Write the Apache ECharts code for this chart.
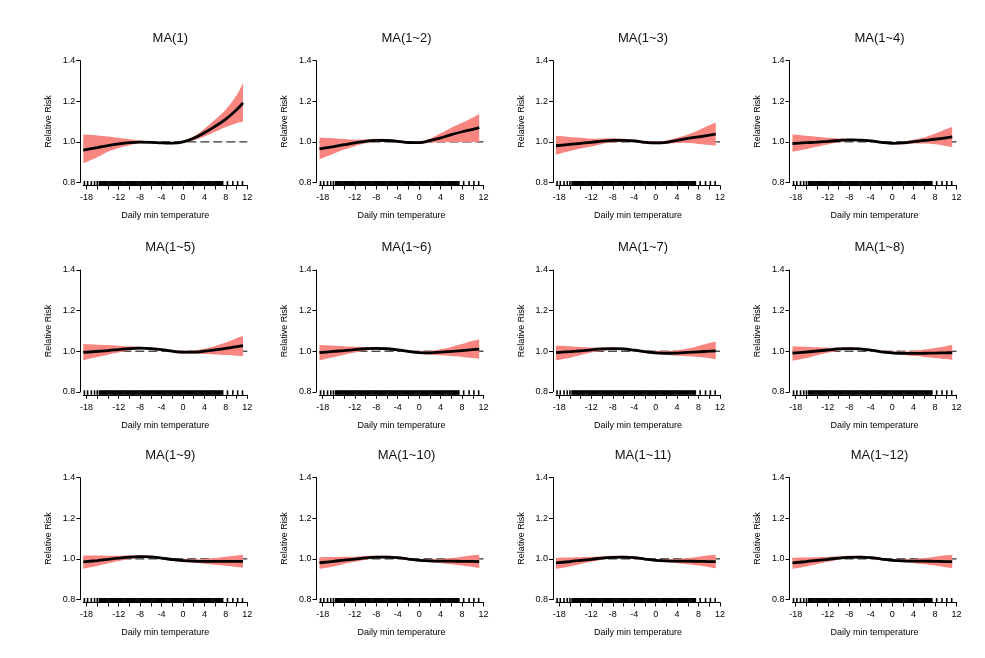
<!DOCTYPE html>
<html>
<head>
<meta charset="utf-8">
<script src="https://cdn.jsdelivr.net/npm/echarts@6/dist/echarts.min.js"></script>
<style>
html,body{margin:0;padding:0;background:#fff;}
#chart{width:985px;height:658px;}
</style>
</head>
<body>
<div id="chart"></div>
<script>
// ---------------- data ----------------
const panelTitles = ['MA(1)','MA(1~2)','MA(1~3)','MA(1~4)','MA(1~5)','MA(1~6)','MA(1~7)','MA(1~8)','MA(1~9)','MA(1~10)','MA(1~11)','MA(1~12)'];

// temperature grid at which the exposure-response curve is read
const temps = [-18.6,-16,-14,-12,-10,-8,-6,-4,-2,0,2,4,6,8,10,11.2];

const fitRR = [
  [0.960,0.972,0.982,0.990,0.996,0.999,0.998,0.995,0.994,1.000,1.018,1.045,1.077,1.112,1.158,1.192],
  [0.966,0.977,0.986,0.995,1.003,1.008,1.007,1.003,0.997,0.996,1.006,1.020,1.036,1.050,1.062,1.070],
  [0.981,0.988,0.993,0.998,1.004,1.008,1.008,1.005,0.998,0.995,0.998,1.008,1.017,1.025,1.033,1.038],
  [0.992,0.996,0.999,1.003,1.007,1.010,1.009,1.005,0.998,0.993,0.995,1.001,1.007,1.013,1.020,1.025],
  [0.994,0.999,1.003,1.008,1.013,1.015,1.013,1.008,1.000,0.995,0.995,1.000,1.007,1.014,1.022,1.027],
  [0.993,0.999,1.003,1.008,1.012,1.014,1.012,1.007,0.999,0.993,0.992,0.995,0.999,1.003,1.008,1.010],
  [0.993,0.998,1.002,1.007,1.011,1.013,1.011,1.005,0.998,0.992,0.990,0.991,0.994,0.997,1.000,1.002],
  [0.990,0.996,1.001,1.006,1.011,1.013,1.011,1.005,0.997,0.992,0.989,0.989,0.990,0.991,0.992,0.993],
  [0.985,0.992,0.998,1.004,1.009,1.011,1.010,1.004,0.997,0.992,0.989,0.988,0.988,0.988,0.988,0.988],
  [0.981,0.988,0.994,0.999,1.005,1.009,1.009,1.006,0.999,0.993,0.990,0.989,0.989,0.988,0.988,0.987],
  [0.980,0.987,0.993,0.998,1.004,1.008,1.009,1.006,0.999,0.993,0.990,0.989,0.989,0.988,0.987,0.987],
  [0.980,0.987,0.993,0.998,1.004,1.008,1.009,1.006,0.999,0.993,0.990,0.989,0.989,0.988,0.987,0.987]
];
const lowerCI = [
  [0.895,0.925,0.952,0.970,0.984,0.993,0.993,0.990,0.989,0.994,1.008,1.027,1.050,1.073,1.092,1.100],
  [0.915,0.942,0.962,0.979,0.993,1.000,1.000,0.997,0.991,0.990,0.996,0.998,0.999,0.999,0.999,0.999],
  [0.937,0.955,0.967,0.977,0.990,0.998,1.000,0.998,0.992,0.989,0.991,0.995,0.994,0.990,0.985,0.982],
  [0.951,0.965,0.976,0.987,0.998,1.004,1.004,1.000,0.993,0.988,0.988,0.992,0.992,0.988,0.980,0.974],
  [0.956,0.971,0.983,0.993,1.003,1.009,1.008,1.003,0.994,0.988,0.987,0.986,0.984,0.981,0.978,0.976],
  [0.955,0.970,0.982,0.993,1.003,1.008,1.007,1.002,0.993,0.986,0.983,0.980,0.976,0.972,0.967,0.963],
  [0.955,0.968,0.981,0.993,1.002,1.007,1.006,1.000,0.991,0.985,0.981,0.978,0.975,0.971,0.965,0.960],
  [0.953,0.966,0.980,0.992,1.002,1.007,1.006,1.000,0.991,0.985,0.981,0.976,0.972,0.967,0.961,0.957],
  [0.952,0.965,0.978,0.990,1.000,1.005,1.005,0.999,0.991,0.985,0.981,0.976,0.971,0.966,0.960,0.956],
  [0.952,0.963,0.975,0.986,0.996,1.003,1.004,1.000,0.993,0.987,0.983,0.979,0.974,0.967,0.960,0.955],
  [0.952,0.963,0.975,0.986,0.996,1.003,1.004,1.000,0.993,0.987,0.983,0.979,0.974,0.967,0.959,0.954],
  [0.952,0.963,0.975,0.986,0.996,1.003,1.004,1.000,0.993,0.987,0.983,0.979,0.974,0.967,0.959,0.954]
];
const upperCI = [
  [1.036,1.032,1.027,1.020,1.013,1.007,1.003,1.000,0.999,1.006,1.028,1.065,1.110,1.160,1.230,1.290],
  [1.022,1.018,1.014,1.011,1.013,1.016,1.014,1.009,1.003,1.003,1.017,1.042,1.070,1.094,1.120,1.138],
  [1.030,1.024,1.020,1.016,1.017,1.018,1.016,1.012,1.005,1.003,1.007,1.020,1.037,1.058,1.082,1.096],
  [1.036,1.030,1.025,1.020,1.017,1.016,1.014,1.010,1.003,0.998,1.002,1.011,1.023,1.040,1.062,1.075],
  [1.035,1.032,1.030,1.027,1.024,1.022,1.019,1.013,1.006,1.002,1.004,1.012,1.026,1.043,1.064,1.075],
  [1.031,1.028,1.024,1.022,1.021,1.020,1.017,1.012,1.005,1.000,1.001,1.009,1.021,1.035,1.051,1.058],
  [1.028,1.025,1.021,1.018,1.018,1.019,1.016,1.010,1.004,1.001,1.001,1.005,1.013,1.026,1.040,1.048],
  [1.025,1.022,1.019,1.017,1.018,1.019,1.016,1.010,1.003,0.999,0.998,1.001,1.008,1.016,1.025,1.030],
  [1.017,1.017,1.016,1.016,1.017,1.018,1.016,1.010,1.003,0.999,0.998,1.000,1.005,1.011,1.017,1.021],
  [1.008,1.009,1.010,1.011,1.014,1.015,1.015,1.012,1.005,1.000,0.998,0.999,1.004,1.011,1.018,1.021],
  [1.006,1.007,1.008,1.010,1.013,1.015,1.015,1.012,1.005,1.000,0.998,0.999,1.004,1.011,1.018,1.021],
  [1.006,1.007,1.008,1.010,1.013,1.015,1.015,1.012,1.005,1.000,0.998,0.999,1.004,1.011,1.018,1.021]
];

// observed daily minimum temperatures (rug)
const rugTemps = [-18.4,-17.8,-17.1,-16.5,-16.0,-15.6,
  -15.4,-15.2,-15,-14.8,-14.6,-14.4,-14.2,-14,-13.8,-13.6,-13.4,-13.2,-13,-12.8,-12.6,-12.4,-12.2,-12,
  -11.8,-11.6,-11.4,-11.2,-11,-10.8,-10.6,-10.4,-10.2,-10,-9.8,-9.6,-9.4,-9.2,-9,-8.8,-8.6,-8.4,-8.2,-8,
  -7.8,-7.6,-7.4,-7.2,-7,-6.8,-6.6,-6.4,-6.2,-6,-5.8,-5.6,-5.4,-5.2,-5,-4.8,-4.6,-4.4,-4.2,-4,
  -3.8,-3.6,-3.4,-3.2,-3,-2.8,-2.6,-2.4,-2.2,-2,-1.8,-1.6,-1.4,-1.2,-1,-0.8,-0.6,-0.4,-0.2,0,
  0.2,0.4,0.6,0.8,1,1.2,1.4,1.6,1.8,2,2.2,2.4,2.6,2.8,3,3.2,3.4,3.6,3.8,4,
  4.2,4.4,4.6,4.8,5,5.2,5.4,5.6,5.8,6,6.2,6.4,6.6,6.8,7,7.2,7.4,
  8.3,9.3,10.2,11.1];

const xTickValues = [-18,-16,-14,-12,-10,-8,-6,-4,-2,0,2,4,6,8,10,12];
const xLabelValues = [-18,-12,-8,-4,0,4,8,12];
const xMin = -18.6, xMax = 12;
const yMin = 0.8, yMax = 1.4, yStep = 0.2;
const refRR = 1.0;

// ---------------- layout ----------------
const colLeft = [83.3, 319.5, 556, 792.5];
const rowTop = [60.7, 270, 477.7];
const plotW = 164, plotH = 121.8;
const bandColor = '#F8857F';
const fontFam = 'Liberation Sans, Arial, sans-serif';
const SMOOTH = 0.4;

function bandRenderer(idx) {
  return function (params, api) {
    const up = temps.map((t, k) => api.coord([t, upperCI[idx][k]]));
    const lo = temps.map((t, k) => api.coord([t, lowerCI[idx][k]])).reverse();
    // duplicate corner points so the closed smooth outline keeps sharp ends
    const pts = [up[0]].concat(up, [up[up.length - 1]], [lo[0]], lo, [lo[lo.length - 1]]);
    return {
      type: 'polygon',
      shape: {points: pts, smooth: SMOOTH},
      style: {fill: bandColor, stroke: null}
    };
  };
}

const grids = [], xAxes = [], yAxes = [], titles = [], series = [];
for (let i = 0; i < 12; i++) {
  const r = Math.floor(i / 4), c = i % 4;
  const left = colLeft[c], top = rowTop[r];
  grids.push({left: left, top: top, width: plotW, height: plotH, containLabel: false});
  titles.push({
    text: panelTitles[i], left: left + plotW / 2, top: top - 34, textAlign: 'center',
    textStyle: {fontSize: 13, fontWeight: 'normal', color: '#111', fontFamily: fontFam}
  });
  xAxes.push({
    type: 'value', gridIndex: i, min: xMin, max: xMax, offset: 3,
    axisLine: {show: true, onZero: false, lineStyle: {color: '#000', width: 1}},
    axisTick: {show: true, inside: false, length: 4, customValues: xTickValues, lineStyle: {color: '#000'}},
    axisLabel: {show: true, customValues: xLabelValues, fontSize: 9, color: '#000', margin: 8, fontFamily: fontFam},
    splitLine: {show: false},
    name: 'Daily min temperature', nameLocation: 'middle', nameGap: 26,
    nameTextStyle: {fontSize: 9, color: '#000', fontFamily: fontFam}
  });
  yAxes.push({
    type: 'value', gridIndex: i, min: yMin, max: yMax, interval: yStep, offset: 3,
    axisLine: {show: true, onZero: false, lineStyle: {color: '#000', width: 1}},
    axisTick: {show: true, inside: false, length: 4, lineStyle: {color: '#000'}},
    axisLabel: {fontSize: 9, color: '#000', margin: 5, fontFamily: fontFam, formatter: v => v.toFixed(1)},
    splitLine: {show: false},
    name: 'Relative Risk', nameLocation: 'middle', nameGap: 27, nameRotate: 90,
    nameTextStyle: {fontSize: 9, color: '#000', fontFamily: fontFam}
  });
  // reference line at RR = 1
  series.push({
    type: 'line', xAxisIndex: i, yAxisIndex: i, symbol: 'none', silent: true, z: 1,
    data: [[xMin, refRR], [xMax, refRR]],
    lineStyle: {color: '#000', width: 1, type: [9, 4]}
  });
  // CI band
  series.push({
    type: 'custom', xAxisIndex: i, yAxisIndex: i, silent: true, z: 2, clip: false,
    data: [[temps[0], lowerCI[i][0]]],
    renderItem: bandRenderer(i)
  });
  // fitted RR curve
  series.push({
    type: 'line', xAxisIndex: i, yAxisIndex: i, symbol: 'none', smooth: SMOOTH, silent: true, z: 3,
    data: temps.map((t, k) => [t, fitRR[i][k]]),
    lineStyle: {color: '#000', width: 2.8}
  });
  // rug
  series.push({
    type: 'custom', xAxisIndex: i, yAxisIndex: i, silent: true, z: 4, clip: false,
    data: rugTemps.map(t => [t, yMin]),
    renderItem: function (params, api) {
      const p = api.coord([api.value(0), api.value(1)]);
      return {type: 'line', shape: {x1: p[0], y1: p[1] + 3, x2: p[0], y2: p[1] - 1.5},
        style: {stroke: '#000', lineWidth: 1.6}};
    }
  });
}

const chart = echarts.init(document.getElementById('chart'), null, {renderer: 'canvas'});
chart.setOption({
  animation: false,
  backgroundColor: '#fff',
  textStyle: {fontFamily: fontFam},
  title: titles,
  grid: grids,
  xAxis: xAxes,
  yAxis: yAxes,
  series: series
});
</script>
</body>
</html>
